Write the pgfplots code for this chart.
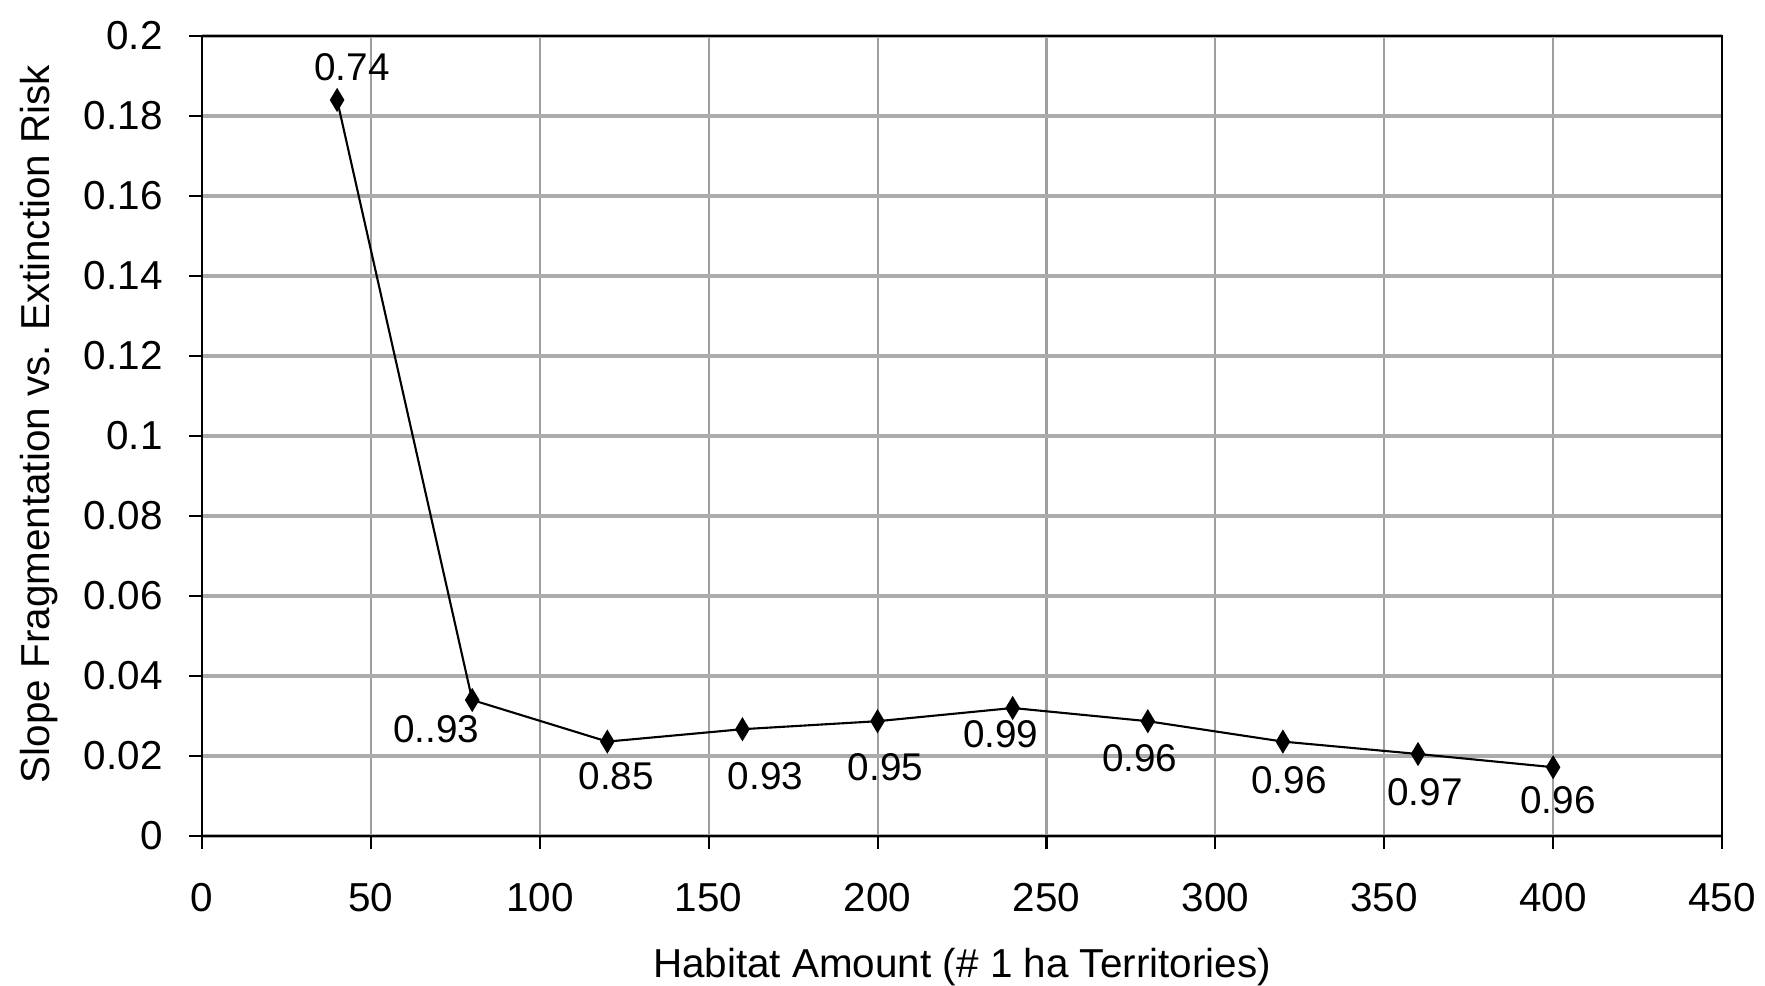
\documentclass[border=0pt]{standalone}
\usepackage{pgfplots}
\pgfplotsset{compat=1.18}
\usepackage{pgfplotstable}
\usepackage{fontspec}
\setmainfont{Liberation Sans}

% x, slope, label and label offset (cm)
\pgfplotstableread{
x   y      lab   dx     dy
40  0.184  0.74  0.15   0.33
80  0.034  0..93 -0.36  -0.29
120 0.0236 0.85  0.09   -0.35
160 0.0267 0.93  0.23   -0.47
200 0.0287 0.95  0.08   -0.46
240 0.0320 0.99  -0.12  -0.26
280 0.0287 0.96  -0.08  -0.37
320 0.0236 0.96  0.06   -0.39
360 0.0205 0.97  0.07   -0.38
400 0.0172 0.96  0.05   -0.33
}\slopedata

\begin{document}
\begin{tikzpicture}
\begin{axis}[
  scale only axis,
  width=15.2cm, height=8cm,
  xmin=0, xmax=450, ymin=0, ymax=0.2,
  xtick={0,50,...,450},
  ytick={0,0.02,...,0.2},
  yticklabels={0,0.02,0.04,0.06,0.08,0.1,0.12,0.14,0.16,0.18,0.2},
  scaled y ticks=false,
  tick pos=left,
  tick align=outside,
  major tick length=0.13cm,
  grid=major,
  major x grid style={gray!75, line width=0.6pt},
  major y grid style={gray!65, line width=0.9pt},
  axis line style={black, line width=0.8pt},
  tick style={black, line width=0.6pt},
  /pgf/number format/assume math mode=true,
  tick label style={font=\fontsize{11.5}{13}\selectfont},
  xticklabel style={yshift=-0.22cm},
  yticklabel style={xshift=-0.14cm},
  xlabel={Habitat Amount (\# 1 ha Territories)},
  ylabel={Slope Fragmentation vs. Extinction Risk},
  label style={font=\fontsize{11.5}{13}\selectfont},
  xlabel style={at={(axis description cs:0.5,0)}, anchor=center, yshift=-1.31cm},
  ylabel style={at={(axis description cs:0,0.515)}, anchor=center, yshift=1.63cm},
  clip=false,
]
\addplot[black, line width=0.6pt, mark=diamond*,
  mark size=2.3pt, mark options={fill=black, yscale=1.25},
  point meta=explicit symbolic,
  visualization depends on={\thisrow{dx}\as\labdx},
  visualization depends on={\thisrow{dy}\as\labdy},
  nodes near coords,
  every node near coord/.append style={anchor=center, font=\fontsize{11}{13}\selectfont,
    xshift=\labdx cm, yshift=\labdy cm},
] table[x=x, y=y, meta=lab] {\slopedata};
\end{axis}
\pgfresetboundingbox
\path ([shift={(-2.02cm,-1.49cm)}]current axis.south west)
  rectangle ([shift={(0.43cm,0.36cm)}]current axis.north east);
\end{tikzpicture}
\end{document}
